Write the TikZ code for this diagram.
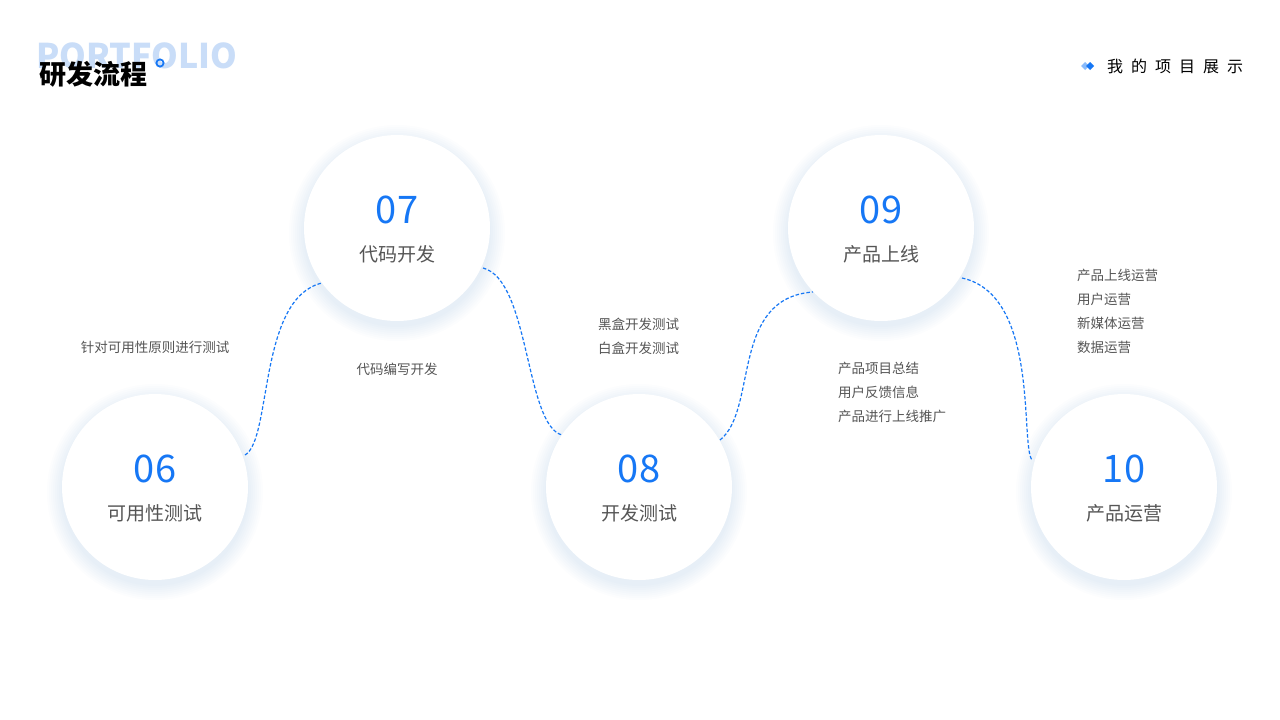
\documentclass[tikz,border=0pt]{standalone}
\usepackage{fontspec}
\setmainfont{Noto Sans CJK SC}
\definecolor{mblue}{HTML}{1677F5}
\definecolor{lblue}{HTML}{C9DDF8}
\definecolor{tgray}{HTML}{555555}
\tikzset{
 circ/.style={circle,fill=white,minimum size=186pt,inner sep=0pt},
 num/.style={text=mblue,font=\fontsize{38}{40}\selectfont,inner sep=0pt},
 lab/.style={text=tgray,font=\fontsize{19}{22}\selectfont,inner sep=0pt},
 desc/.style={text=tgray,font=\fontsize{13.5}{15}\selectfont,inner sep=0pt},
 descl/.style={desc,anchor=west},
 conn/.style={mblue,line width=1.2pt,dash pattern=on 3.5pt off 2pt}
}
\begin{document}
\begin{tikzpicture}[x=1pt,y=-1pt]
\useasboundingbox (0,0) rectangle (1280,720);
\fill[white] (0,0) rectangle (1280,720);
% header
\node[anchor=west,inner sep=0pt,text=lblue,font=\fontsize{34}{36}\selectfont\bfseries] (pf) at (36,56) {PORTFOLIO};
\node[anchor=west,inner sep=0pt,font=\fontsize{27}{30}\selectfont\bfseries] (tt) at (39,74) {研发流程};
\draw[mblue,line width=1.8pt] (160,63) circle (3.6);
\node[anchor=west,inner sep=0pt,font=\fontsize{16}{18}\selectfont] (mp) at (1107,66) {我\,\,\,的\,\,\,项\,\,\,目\,\,\,展\,\,\,示};
\fill[mblue!50] (1081,66) -- (1085,62) -- (1089,66) -- (1085,70) -- cycle;
\fill[mblue] (1086,66) -- (1090,62) -- (1094,66) -- (1090,70) -- cycle;
% shadows and circles
\foreach \n/\x/\y in {a/155/487,b/397/228,c/639/487,d/881/228,e/1124/487}{
  \foreach \r in {108,106,...,94}{
    \fill[mblue,opacity=0.012] (\x,\y+5) circle (\r);}
  \node[circ] (\n) at (\x,\y) {};
}
\node[num] (na) at (155,469) {06}; \node[lab] (la) at (155,513) {可用性测试};
\node[num] (nb) at (397,210) {07}; \node[lab] (lb) at (397,254) {代码开发};
\node[num] (nc) at (639,469) {08}; \node[lab] (lc) at (639,513) {开发测试};
\node[num] (nd) at (881,210) {09}; \node[lab] (ld) at (881,254) {产品上线};
\node[num] (ne) at (1124,469) {10}; \node[lab] (le) at (1124,513) {产品运营};
% connectors
\coordinate (a1) at (245,455); \coordinate (b1) at (322,283);
\coordinate (b2) at (483,268); \coordinate (c1) at (562,435);
\coordinate (c2) at (720,440); \coordinate (d1) at (813,292);
\coordinate (d2) at (962,278); \coordinate (e1) at (1032,460);
\draw[conn] (a1) .. controls (272,440) and (258,298) .. (b1);
\draw[conn] (b2) .. controls (530,280) and (525,425) .. (c1);
\draw[conn] (c2) .. controls (758,410) and (730,298) .. (d1);
\draw[conn] (d2) .. controls (1040,295) and (1020,445) .. (e1);
% descriptions
\node[desc] (t1) at (155,347) {针对可用性原则进行测试};
\node[desc] (t2) at (397,369) {代码编写开发};
\node[descl] (t3) at (598,324) {黑盒开发测试};
\node[descl] (t4) at (598,348) {白盒开发测试};
\node[descl] (t5) at (838,368) {产品项目总结};
\node[descl] (t6) at (838,392) {用户反馈信息};
\node[descl] (t7) at (838,416) {产品进行上线推广};
\node[descl] (t8) at (1077,275) {产品上线运营};
\node[descl] (t9) at (1077,299) {用户运营};
\node[descl] (t10) at (1077,323) {新媒体运营};
\node[descl] (t11) at (1077,347) {数据运营};
\end{tikzpicture}
\end{document}
